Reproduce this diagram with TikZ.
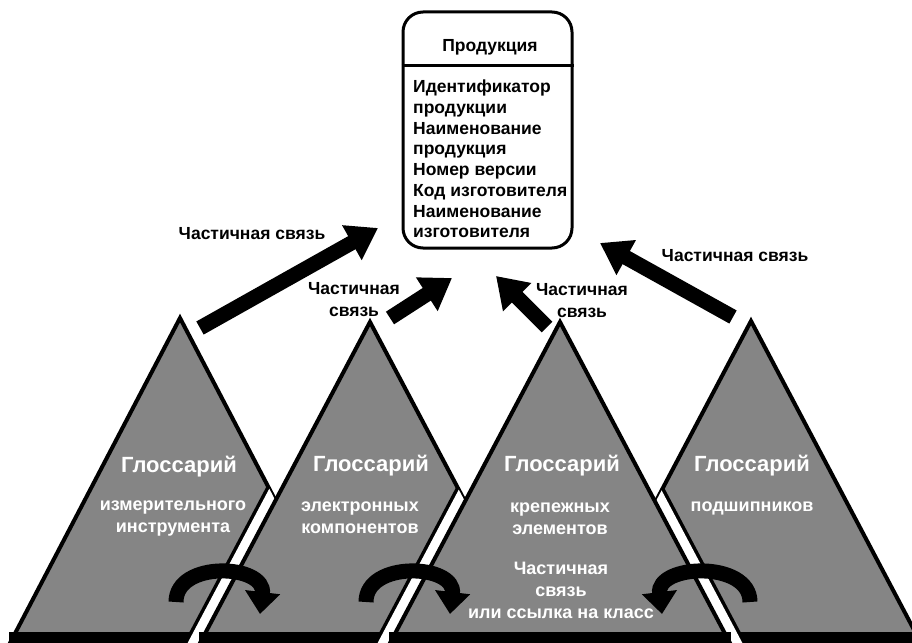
\documentclass[tikz,border=0pt]{standalone}
\usepackage{fontspec}
\setmainfont{Liberation Sans}
\usepackage{tikz}
\usetikzlibrary{arrows.meta,positioning,calc}
\definecolor{tgray}{HTML}{858585}
\tikzstyle{l1}=[line width=4, line join=miter]
\tikzstyle{bigarrow}=[line width=15, -{Triangle[width=38pt,length=30pt]}]
\tikzstyle{curvarrow}=[line width=15, -{Triangle[width=34pt,length=22pt]}]
\tikzstyle{gloss}=[text=white, font=\fontsize{22}{24}\selectfont\bfseries, inner sep=0]
\tikzstyle{gsub}=[text=white, font=\fontsize{18}{22}\selectfont\bfseries, align=center, inner sep=0]
\tikzstyle{lbl}=[font=\fontsize{17.5}{22}\selectfont\bfseries, align=center, inner sep=0]
\tikzstyle{body}=[font=\fontsize{17.5}{20.7}\selectfont\bfseries, align=left, inner sep=0]
% triangle with apex at (#1,#2), base below the page edge
\newcommand{\tripath}[2]{(#1,#2) -- (#1-171,645) -- (#1+171,645) -- cycle}
\newcommand{\glosstri}[2]{%
  \fill[tgray] \tripath{#1}{#2};
  \draw[l1] \tripath{#1}{#2};
  \draw[line width=26] (#1-171,645) -- (#1+171,645);}
% white gap of a triangle over the one below it
\newcommand{\gap}[4]{%
  \begin{scope}
    \clip \tripath{#1}{#2};
    \draw[line width=29] \tripath{#3}{#4};
    \draw[line width=22, white] \tripath{#3}{#4};
  \end{scope}}

\begin{document}
\begin{tikzpicture}[x=1pt, y=-1pt]
    \useasboundingbox (0,0) rectangle (912,642);

    \glosstri{180}{318}
    \gap{180}{318}{370}{322}
    \glosstri{370}{322}
    \glosstri{751}{321}
    \gap{370}{322}{560}{322}
    \gap{751}{321}{560}{322}
    \glosstri{560}{322}

    \node[gloss] at (179,467) (g1) {Глоссарий};
    \node[gsub] at (173,519) (g1t) {измерительного\\инструмента};
    \node[gloss] at (371,466) (g2) {Глоссарий};
    \node[gsub] at (360,518) (g2t) {электронных\\компонентов};
    \node[gloss] at (562,466) (g3) {Глоссарий};
    \node[gsub] at (560,519) (g3t) {крепежных\\элементов};
    \node[gsub] at (561,590) (g3r) {Частичная\\связь\\или ссылка на класс};
    \node[gloss] at (752,466) (g4) {Глоссарий};
    \node[gsub] at (752,508) (g4t) {подшипников};

    % product box
    \node[draw, line width=3, rounded corners=20, minimum width=169pt, minimum height=236pt, inner sep=0] at (487.5,130) (prod) {};
    \coordinate (sep) at (0,65);
    \draw[line width=3] (prod.west |- sep) -- (prod.east |- sep);
    \node[lbl] at (490,47) (hdr) {Продукция};
    \node[body, anchor=north west] at (413,80) (attrs) {Идентификатор\\продукции\\Наименование\\продукция\\Номер версии\\Код изготовителя\\Наименование\\изготовителя};

    % partial links
    \coordinate (a1s) at (200,328); \coordinate (a1e) at (378,228);
    \coordinate (a2s) at (390,318); \coordinate (a2e) at (452,278);
    \coordinate (a3s) at (547,327); \coordinate (a3e) at (496,276);
    \coordinate (a4s) at (733,317); \coordinate (a4e) at (600,243);
    \draw[bigarrow] (a1s) -- (a1e);
    \draw[bigarrow] (a2s) -- (a2e);
    \draw[bigarrow] (a3s) -- (a3e);
    \draw[bigarrow] (a4s) -- (a4e);
    \node[lbl] at (252,234) (l1) {Частичная связь};
    \node[lbl] at (354,300) (l2) {Частичная\\связь};
    \node[lbl] at (582,301) (l3) {Частичная\\связь};
    \node[lbl] at (735,256) (l4) {Частичная связь};

    \coordinate (c1s) at (176,602); \coordinate (c1e) at (260,614);
    \coordinate (c2s) at (366,602); \coordinate (c2e) at (450,614);
    \coordinate (c3s) at (750,602); \coordinate (c3e) at (662,614);
    \draw[curvarrow] (c1s) .. controls +(0,-42) and +(6,-50) .. (c1e);
    \draw[curvarrow] (c2s) .. controls +(0,-42) and +(6,-50) .. (c2e);
    \draw[curvarrow] (c3s) .. controls +(0,-42) and +(-6,-50) .. (c3e);
\end{tikzpicture}
\end{document}
